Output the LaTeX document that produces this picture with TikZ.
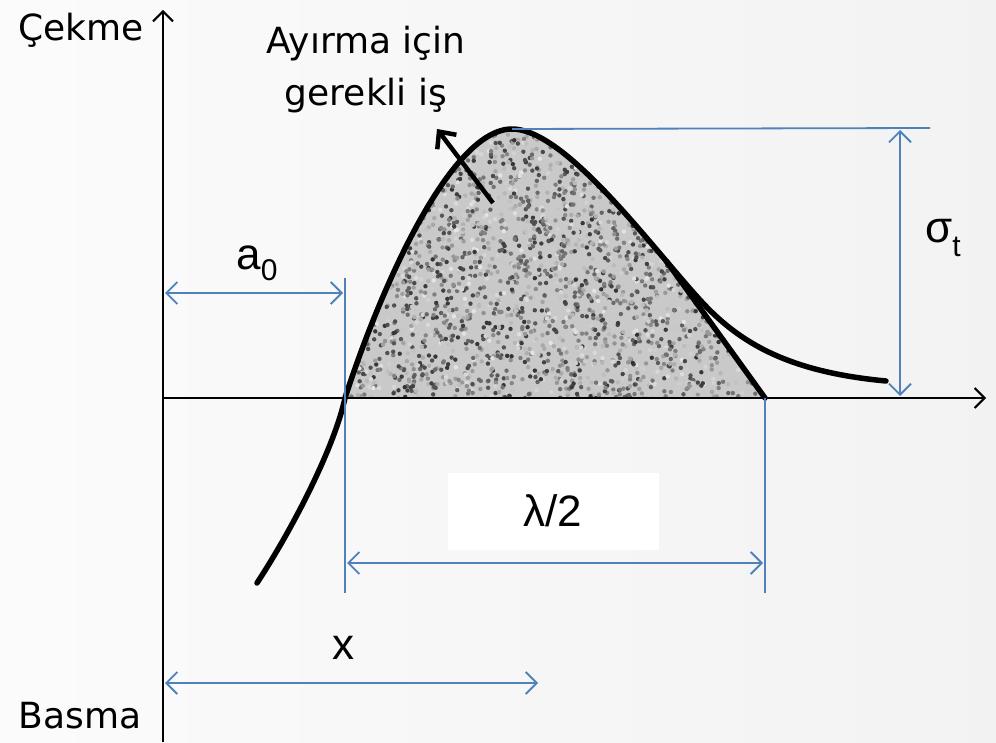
\documentclass[tikz,border=0pt]{standalone}
\usepackage{fontspec}
\setmainfont{Liberation Sans}
\newfontfamily\handfont{DejaVu Sans}
\usetikzlibrary{arrows.meta}
\definecolor{dimblue}{RGB}{79,129,189}

\begin{document}
\begin{tikzpicture}[
    x=1pt, y=-1pt,
    every node/.style={inner sep=0pt},
    lbl/.style={font=\fontsize{44}{48}\selectfont},
    hand/.style={font=\handfont\fontsize{36}{52}\selectfont, align=center},
    dim/.style={draw=dimblue, line width=1.8pt},
    dimtip/.style={dim, {Straight Barb[length=11pt,width=22pt]}-{Straight Barb[length=11pt,width=22pt]}},
    axis/.style={line width=2pt, -{Straight Barb[length=10pt,width=20pt]}},
    curve/.style={line width=5.5pt, line cap=round, line join=round},
  ]

  % background
  \fill[left color=gray!3, right color=gray!10] (0,0) rectangle (996,742);

  % points
  \coordinate (o) at (163,398);
  \coordinate (top) at (163,10);
  \coordinate (bot) at (163,742);
  \coordinate (xend) at (986,398);
  \coordinate (z) at (345,398);
  \coordinate (pk) at (512,129);
  \coordinate (s) at (666.3,261.1);
  \coordinate (h) at (765,398);

  % work area
  \begin{scope}
    \clip (z) .. controls (380,290) and (450,129) .. (pk)
      .. controls (554.4,129) and (617.3,203.2) .. (s) -- (h) -- cycle;
    \fill[gray!42] (340,120) rectangle (770,400);
    \pgfmathsetseed{7}
    \foreach \i in {1,...,3000} {
      \pgfmathsetmacro\px{340+430*rnd}
      \pgfmathsetmacro\py{120+280*rnd}
      \pgfmathsetmacro\sh{10+70*rnd}
      \fill[black!\sh] (\px,\py) circle (2.2);
    }
  \end{scope}

  % axes
  \draw[axis] (bot) -- (top);
  \draw[axis] (o) -- (xend);

  % curve
  \draw[curve] (257,583) .. controls (295,525) and (335,445) .. (z)
    .. controls (380,290) and (450,129) .. (pk)
    .. controls (554.4,129) and (617.3,203.2) .. (s)
    .. controls (678.6,275.6) and (690,289) .. (700,300)
    .. controls (740,344) and (790,372) .. (886,381);
  \draw[curve] (s) -- (h);

  % dimensions
  \coordinate (a0l) at (165,293);
  \coordinate (a0r) at (343,293);
  \draw[dimtip] (a0l) -- (a0r);
  \draw[dim] (345,278) -- (345,593);
  \coordinate (laml) at (347,563);
  \coordinate (lamr) at (763,563);
  \draw[dimtip] (laml) -- (lamr);
  \draw[dim] (h) -- (765,593);
  \coordinate (xl) at (165,683);
  \coordinate (xr) at (538,683);
  \draw[dimtip] (xl) -- (xr);
  \coordinate (st) at (900,130);
  \coordinate (sb) at (900,396);
  \draw[dim] (pk) -- (930,128);
  \draw[dimtip] (st) -- (sb);

  % labels
  \node[hand] (cekme) at (81,30) {Çekme};
  \node[hand] (basma) at (80,716) {Basma};
  \node[hand] (ayirma) at (366,70) {Ayırma için\\gerekli iş};
  \coordinate (wtail) at (493,203);
  \coordinate (whead) at (437,129);
  \draw[line width=4.5pt, -{Straight Barb[length=13pt,width=24pt]}] (wtail) -- (whead);
  \node[lbl] (sig) at (943,238) {σ\raisebox{-.3em}{\fontsize{30}{32}\selectfont t}};
  \node[lbl] (a0) at (257,263) {a\raisebox{-.25em}{\fontsize{30}{32}\selectfont 0}};
  \node[lbl, fill=white, minimum width=211pt, minimum height=77pt] (lam) at (553,511) {λ/2};
  \node[lbl] (xlab) at (343,648) {x};

\end{tikzpicture}
\end{document}
